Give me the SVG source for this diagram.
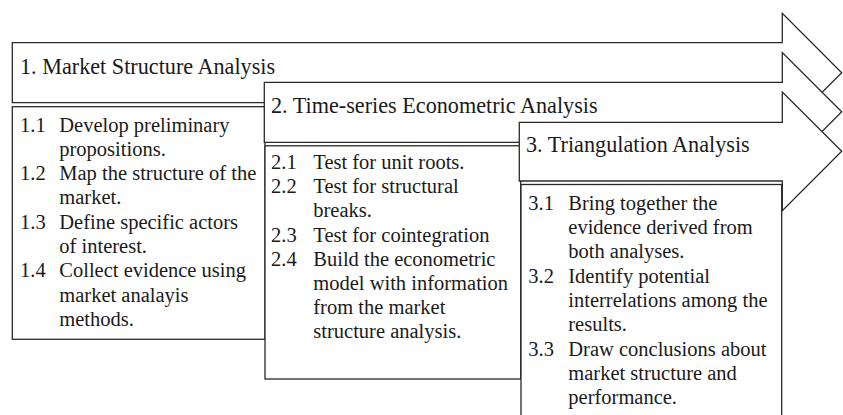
<svg xmlns="http://www.w3.org/2000/svg" width="843" height="415" viewBox="0 0 843 415">
<style>
.shape{fill:#fff;stroke:#2a2a2a;stroke-width:1.3;stroke-linejoin:miter}
.title{font-family:"Liberation Serif","Times New Roman",serif;font-size:22.2px;fill:#1a1a1a}
.item{font-family:"Liberation Serif","Times New Roman",serif;font-size:20.5px;fill:#1a1a1a}
</style>
<rect width="843" height="415" fill="#fff"/>
<g id="phase1">
<polygon class="shape" points="12.3,42.7 782.3,42.7 782.3,13.3 841.7,72.7 782.3,132 782.3,102.7 12.3,102.7"/>
<text class="title" x="20" y="73.5">1. Market Structure Analysis</text>
<rect class="shape" x="12.3" y="106.7" width="252.7" height="232.6"/>
<g class="item">
<text x="20" y="131.5">1.1</text><text x="59.3" y="131.5">Develop preliminary</text>
<text x="59.3" y="155.8">propositions.</text>
<text x="20" y="180.1">1.2</text><text x="59.3" y="180.1">Map the structure of the</text>
<text x="59.3" y="204.4">market.</text>
<text x="20" y="228.7">1.3</text><text x="59.3" y="228.7">Define specific actors</text>
<text x="59.3" y="253">of interest.</text>
<text x="20" y="277.3">1.4</text><text x="59.3" y="277.3">Collect evidence using</text>
<text x="59.3" y="301.6">market analayis</text>
<text x="59.3" y="325.9">methods.</text>
</g>
</g>
<g id="phase2">
<polygon class="shape" points="264.3,82.3 782.3,82.3 782.3,52.5 841.7,111.8 782.3,171.5 782.3,142.3 264.3,142.3"/>
<text class="title" x="271" y="113.3">2. Time-series Econometric Analysis</text>
<rect class="shape" x="265" y="145.8" width="255.7" height="233.2"/>
<g class="item">
<text x="271" y="169">2.1</text><text x="313.3" y="169">Test for unit roots.</text>
<text x="271" y="193.2">2.2</text><text x="313.3" y="193.2">Test for structural</text>
<text x="313.3" y="217.4">breaks.</text>
<text x="271" y="241.6">2.3</text><text x="313.3" y="241.6">Test for cointegration</text>
<text x="271" y="265.8">2.4</text><text x="313.3" y="265.8">Build the econometric</text>
<text x="313.3" y="290">model with information</text>
<text x="313.3" y="314.2">from the market</text>
<text x="313.3" y="338.4">structure analysis.</text>
</g>
</g>
<g id="phase3">
<polygon class="shape" points="519.3,122.3 782.3,122.3 782.3,92 841.7,151.3 782.3,210.8 782.3,181 519.3,181"/>
<text class="title" x="526" y="151.7">3. Triangulation Analysis</text>
<rect class="shape" x="521" y="184.5" width="260.7" height="240"/>
<g class="item">
<text x="528.3" y="209.8">3.1</text><text x="568.3" y="209.8">Bring together the</text>
<text x="568.3" y="234.1">evidence derived from</text>
<text x="568.3" y="258.4">both analyses.</text>
<text x="528.3" y="282.7">3.2</text><text x="568.3" y="282.7">Identify potential</text>
<text x="568.3" y="307">interrelations among the</text>
<text x="568.3" y="331.3">results.</text>
<text x="528.3" y="355.6">3.3</text><text x="568.3" y="355.6">Draw conclusions about</text>
<text x="568.3" y="379.9">market structure and</text>
<text x="568.3" y="404.2">performance.</text>
</g>
</g>
<g id="connectors"/>
</svg>
